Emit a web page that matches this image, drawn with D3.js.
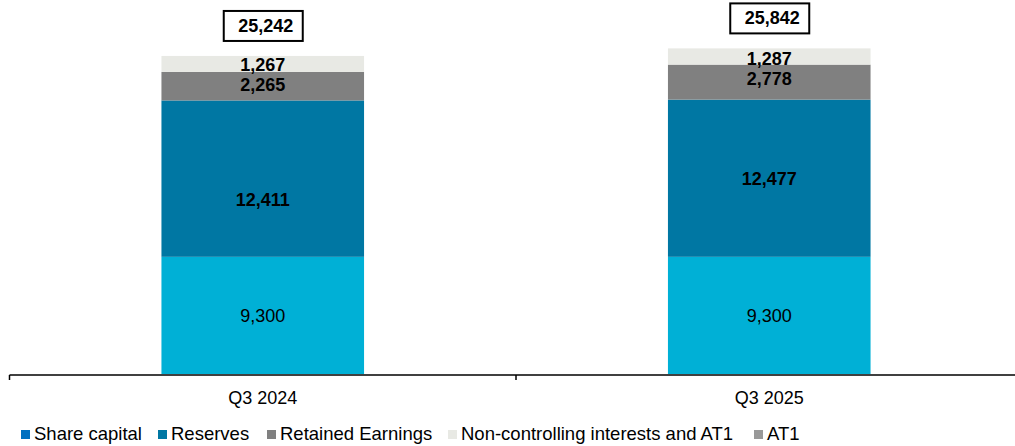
<!DOCTYPE html>
<html><head><meta charset="utf-8">
<script src="https://cdn.jsdelivr.net/npm/d3@7"></script>
<style>body{margin:0;background:#fff}svg{display:block;font-family:"Liberation Sans",Arial,sans-serif}</style>
</head><body><svg id="c" width="1015" height="446"></svg>
<script>
const categories = ["Q3 2024", "Q3 2025"];
const shareCapital = [9300, 9300];
const reserves = [12411, 12477];
const retainedEarnings = [2265, 2778];
const nonControlling = [1267, 1287];
const totals = [25242, 25842];
const seriesNames = ["Share capital", "Reserves", "Retained Earnings", "Non-controlling interests and AT1", "AT1"];

const barColors = ["#00B0D6", "#0077A3", "#808080", "#E8E9E4"];
const legendColors = ["#0070C0", "#0077A3", "#808080", "#E8E9E4", "#999999"];
const labelBold = [false, true, true, true];
// layout tweaks (pixel offsets of value labels, legend x positions)
const labelDy = [[1, 1], [21, 1], [-1, -3], [1, 2]];
const legendX = [21, 158, 267, 448, 754];

const svg = d3.select("#c");
const x = d3.scaleBand().domain(categories).range([9.5, 1022.5]).padding(0);
const y = d3.scaleLinear().domain([0, 29683]).range([374, 0]);
const barW = x.bandwidth() * 0.4;

const seriesVals = [shareCapital, reserves, retainedEarnings, nonControlling];
const rows = categories.map((c, i) => {
  const r = {cat: c, idx: i};
  seriesVals.forEach((s, k) => r["s" + k] = s[i]);
  return r;
});
const stack = d3.stack().keys([0,1,2,3].map(k => "s" + k))(rows);

stack.forEach((layer, k) => {
  const g = svg.append("g");
  layer.forEach(d => {
    const cx = x(d.data.cat) + x.bandwidth() / 2;
    g.append("rect")
      .attr("x", cx - barW / 2).attr("width", barW)
      .attr("y", y(d[1])).attr("height", y(d[0]) - y(d[1]))
      .attr("fill", barColors[k]);
  });
});
stack.forEach((layer, k) => {
  const g = svg.append("g");
  layer.forEach(d => {
    const cx = x(d.data.cat) + x.bandwidth() / 2;
    g.append("text")
      .attr("x", cx).attr("y", (y(d[0]) + y(d[1])) / 2 + labelDy[k][d.data.idx])
      .attr("text-anchor", "middle").attr("dominant-baseline", "central")
      .attr("font-size", 18).attr("font-weight", labelBold[k] ? "bold" : "normal")
      .attr("fill", "#000")
      .text(d3.format(",")(d[1] - d[0]));
  });
});

// totals boxes
categories.forEach((c, i) => {
  const cx = x(c) + x.bandwidth() / 2;
  const top = y(totals[i]);
  const bw = 79, bh = 30;
  svg.append("rect")
    .attr("x", cx - bw / 2 + 0.5).attr("y", top - 15 - bh)
    .attr("width", bw).attr("height", bh)
    .attr("fill", "#fff").attr("stroke", "#000").attr("stroke-width", 2);
  svg.append("text")
    .attr("x", cx + 3).attr("y", top - 15 - bh / 2)
    .attr("text-anchor", "middle").attr("dominant-baseline", "central")
    .attr("font-size", 18).attr("font-weight", "bold").attr("fill", "#000")
    .text(d3.format(",")(totals[i]));
});

// axis
const axisG = svg.append("g").attr("transform", "translate(0,375)");
axisG.append("line").attr("x1", 9.5).attr("x2", 1015).attr("y1", 0).attr("y2", 0)
  .attr("stroke", "#000").attr("stroke-width", 1.5);
[x(categories[0]), x(categories[1])].forEach(t => {
  axisG.append("line").attr("x1", t).attr("x2", t).attr("y1", 0).attr("y2", 5)
    .attr("stroke", "#000").attr("stroke-width", 1.5);
});
categories.forEach(c => {
  axisG.append("text").attr("x", x(c) + x.bandwidth() / 2).attr("y", 29)
    .attr("text-anchor", "middle").attr("font-size", 18).attr("fill", "#000").text(c);
});

// legend
const leg = svg.append("g");
seriesNames.forEach((n, i) => {
  const lx = legendX[i];
  leg.append("rect").attr("x", lx).attr("y", 430).attr("width", 9).attr("height", 9)
    .attr("fill", legendColors[i]);
  leg.append("text").attr("x", lx + 13).attr("y", 440)
    .attr("font-size", 18.5).attr("fill", "#000").text(n);
});
</script></body></html>
